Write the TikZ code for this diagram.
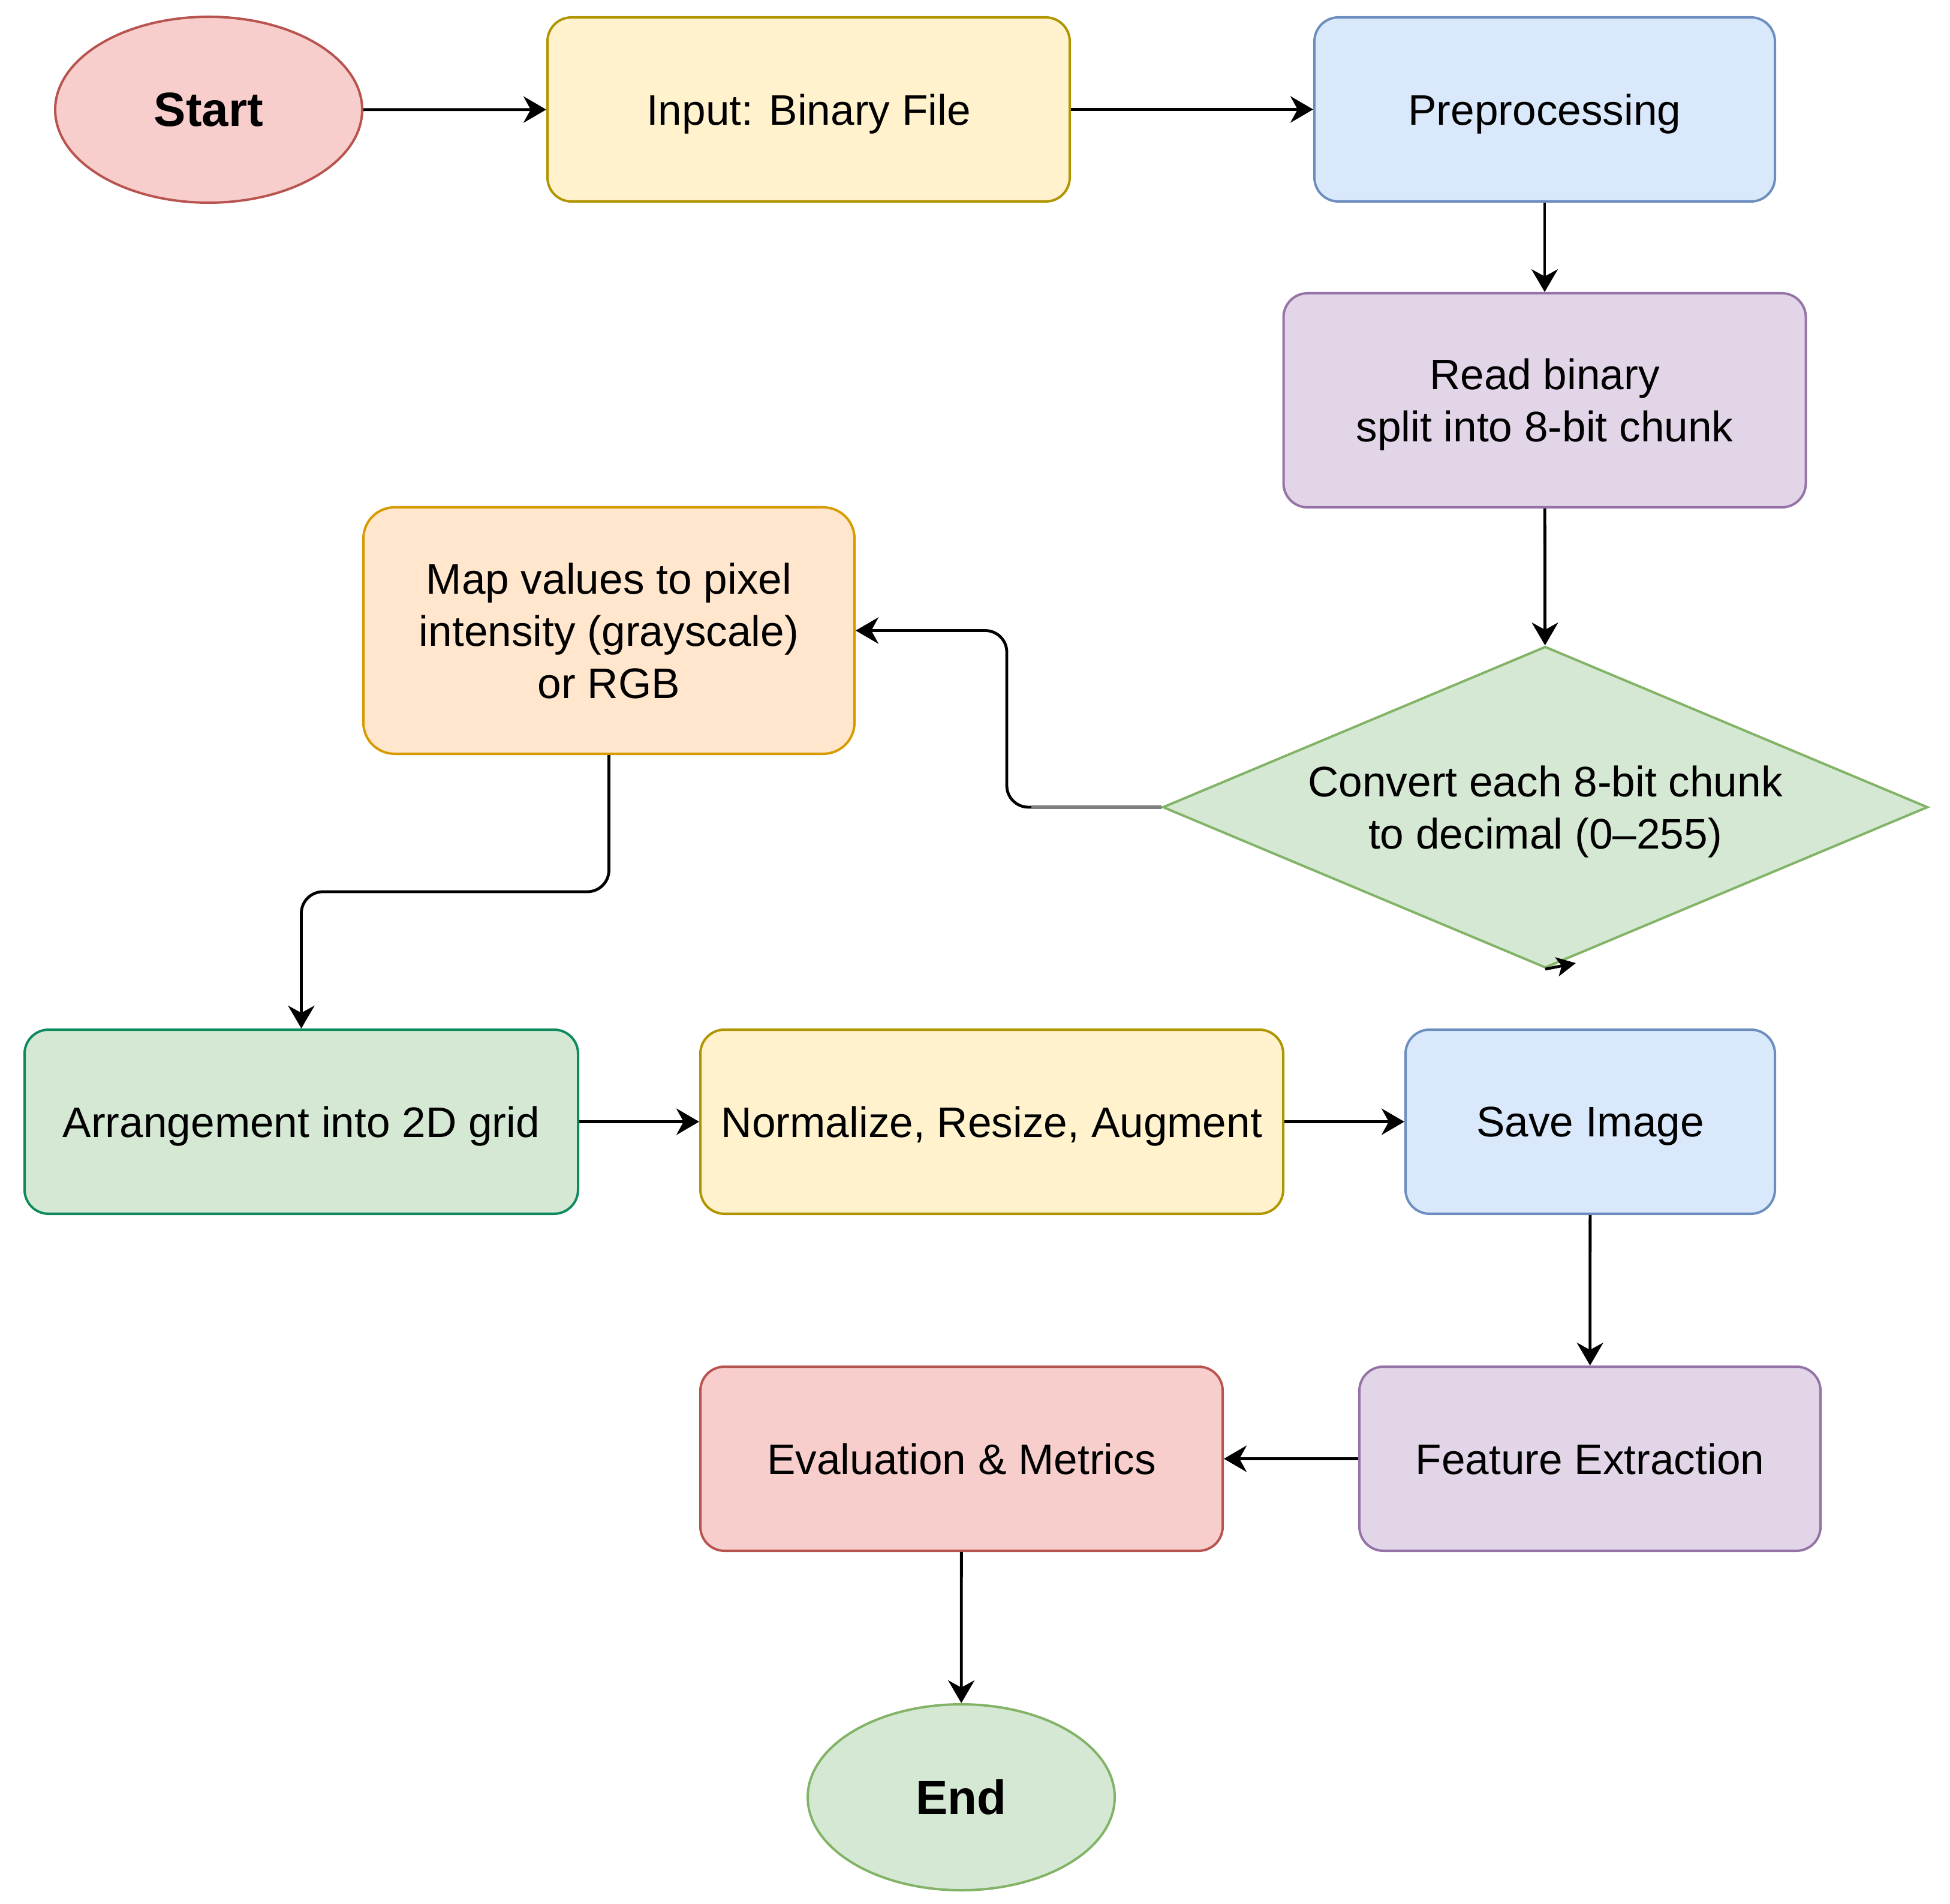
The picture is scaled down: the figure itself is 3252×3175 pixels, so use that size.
\documentclass[tikz,border=0pt]{standalone}
\usepackage{fontspec}
\setmainfont{Liberation Sans}
\usetikzlibrary{arrows.meta,shapes.geometric}
\definecolor{redF}{HTML}{F8CECC}\definecolor{redD}{HTML}{B85450}
\definecolor{yelF}{HTML}{FFF2CC}\definecolor{yelD}{HTML}{B09500}
\definecolor{bluF}{HTML}{DAE8FC}\definecolor{bluD}{HTML}{6C8EBF}
\definecolor{purF}{HTML}{E1D5E7}\definecolor{purD}{HTML}{9673A6}
\definecolor{grnF}{HTML}{D5E8D4}\definecolor{grnD}{HTML}{82B366}
\definecolor{oraF}{HTML}{FFE6CC}\definecolor{oraD}{HTML}{D79B00}
\definecolor{tealD}{HTML}{0E8A5C}
\tikzset{
  txt/.style={font=\fontsize{17.8pt}{21.8pt}\selectfont, text=black, align=center, text depth=0pt},
  box/.style={txt, rectangle, rounded corners=10pt, line width=1pt, inner sep=2pt, minimum height=76.75pt},
  term/.style={ellipse, line width=1pt, minimum width=128pt, minimum height=77.5pt, font=\fontsize{20pt}{24pt}\selectfont\bfseries},
  conn/.style={line width=1.2pt, -{Stealth[length=9.5pt,width=11pt,inset=3pt]}},
}
\begin{document}
\begin{tikzpicture}[x=0.25pt,y=-0.25pt]
\useasboundingbox (0,0) rectangle (3252,3175);
\node[term, fill=redF, draw=redD] (start) at (348,183) {Start};
\node[box, fill=yelF, draw=yelD, minimum width=217.75pt] (input) at (1348.5,182.5) {Input: Binary File};
\node[box, fill=bluF, draw=bluD, minimum width=192pt] (pre) at (2576,182.5) {Preprocessing};
\node[box, fill=purF, draw=purD, minimum width=217.75pt, minimum height=89.25pt] (read) at (2576,667.5) {Read binary\\split into 8-bit chunk};
\node[txt, diamond, aspect=2.4, inner sep=0pt, fill=grnF, draw=grnD, line width=1pt, minimum width=319pt, minimum height=134pt] (diam) at (2577,1346) {Convert each 8-bit chunk\\to decimal (0--255)};
\node[box, fill=oraF, draw=oraD, minimum width=204.75pt, minimum height=102.75pt, rounded corners=13pt] (map) at (1015.5,1051.5) {Map values to pixel\\intensity (grayscale)\\or RGB};
\node[box, fill=grnF, draw=tealD, minimum width=230.75pt] (arr) at (502.5,1870.5) {Arrangement into 2D grid};
\node[box, fill=yelF, draw=yelD, minimum width=243pt] (norm) at (1654,1870.5) {Normalize, Resize, Augment};
\node[box, fill=bluF, draw=bluD, minimum width=154pt] (save) at (2652,1870.5) {Save Image};
\node[box, fill=purF, draw=purD, minimum width=192.25pt] (feat) at (2651.5,2432.5) {Feature Extraction};
\node[box, fill=redF, draw=redD, minimum width=217.75pt] (eval) at (1603.5,2432.5) {Evaluation \& Metrics};
\node[term, fill=grnF, draw=grnD] (end) at (1603,2997) {End};

\coordinate (c1) at (1679,1346);
\coordinate (c2) at (1679,1051.5);
\coordinate (g1) at (1720,1346);
\coordinate (c3) at (760,1487);
\coordinate (stray) at (2628,1606);

\draw[conn] (start) -- (input);
\draw[conn] (input) -- (pre);
\draw[conn] (pre) -- (read);
\draw[conn] (read) -- (diam);
\draw[conn, rounded corners=9pt] (diam.west) -- (c1) -- (c2) -- (map.east);
\draw[line width=1.6pt, color=gray] (diam.west) -- (g1);
\draw[conn, rounded corners=9pt] (map.south) |- (c3) -| (arr.north);
\draw[conn] (arr) -- (norm);
\draw[conn] (norm) -- (save);
\draw[conn] (save) -- (feat);
\draw[conn] (feat) -- (eval);
\draw[conn] (eval) -- (end);
\draw[line width=1.2pt, -{Stealth[length=8pt,width=8pt,inset=2pt]}] (diam.south) -- (stray);
\end{tikzpicture}
\end{document}
